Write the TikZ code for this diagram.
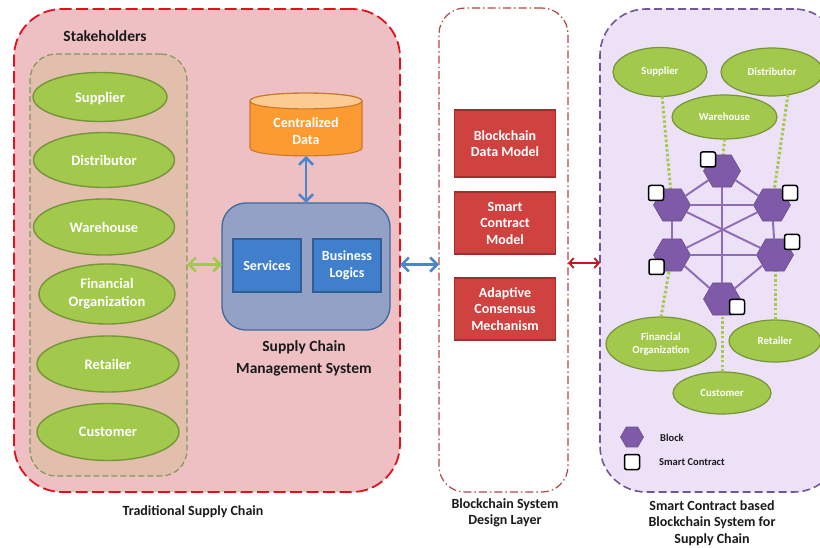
\documentclass[tikz,border=0pt]{standalone}
\usepackage{fontspec}
\setmainfont{Carlito}
\usetikzlibrary{shapes.geometric,arrows.meta,positioning}
\definecolor{panelred}{HTML}{EEC0C3}
\definecolor{panelredline}{HTML}{E3101E}
\definecolor{stakefill}{HTML}{E2BFAC}
\definecolor{stakeline}{HTML}{7F9A55}
\definecolor{leaf}{HTML}{A2C94C}
\definecolor{leafline}{HTML}{76943A}
\definecolor{blockline}{HTML}{B0474A}
\definecolor{lilac}{HTML}{EDE1F8}
\definecolor{lilacline}{HTML}{74559A}
\definecolor{hexfill}{HTML}{7F5AA8}
\definecolor{hexlink}{HTML}{8E6DB4}
\definecolor{orangefill}{HTML}{FD9B33}
\definecolor{orangetop}{HTML}{FBCB93}
\definecolor{orangeline}{HTML}{C8792B}
\definecolor{scmfill}{HTML}{94A1C6}
\definecolor{scmline}{HTML}{3C6A9E}
\definecolor{bluebox}{HTML}{3F7FCB}
\definecolor{blueboxline}{HTML}{2D5E96}
\definecolor{redbox}{HTML}{CF4240}
\definecolor{redboxline}{HTML}{A03030}
\definecolor{arrowblue}{HTML}{4A86CC}
\definecolor{arrowred}{HTML}{C8141E}
\definecolor{txtdark}{HTML}{1A1A1A}
\tikzset{
 x=1pt,y=-1pt,
 panel/.style={inner sep=0pt,outer sep=0pt},
 stakeell/.style={ellipse,inner sep=0pt,outer sep=0pt,fill=leaf,draw=leafline,line width=1.4pt,text=white,font=\fontsize{14.5}{18}\selectfont\bfseries,align=center},
 chainell/.style={stakeell,line width=1.2pt,font=\fontsize{10.8}{13}\selectfont\bfseries},
 bluerect/.style={rectangle,inner sep=0pt,outer sep=0pt,fill=bluebox,draw=blueboxline,line width=1.3pt,text=white,font=\fontsize{14}{17}\selectfont\bfseries,align=center,minimum width=68pt,minimum height=53pt},
 redrect/.style={rectangle,inner sep=0pt,outer sep=0pt,fill=redbox,draw=redboxline,line width=1.3pt,text=white,font=\fontsize{14}{16.5}\selectfont\bfseries,align=center,minimum width=101pt},
 hexa/.style={regular polygon,regular polygon sides=6,minimum size=37pt,inner sep=0pt,outer sep=0pt,fill=hexfill,draw=hexfill!85!black,line width=.6pt},
 contract/.style={rectangle,rounded corners=2pt,minimum size=15pt,inner sep=0pt,fill=white,draw=black,line width=1.5pt},
 caption/.style={text=txtdark,font=\fontsize{14}{16.5}\selectfont\bfseries,align=center},
 dualarrow/.style={line width=2.6pt,{Straight Barb[length=7pt,width=14pt,line width=2.6pt]}-{Straight Barb[length=7pt,width=14pt,line width=2.6pt]}},
 hexlinkline/.style={hexlink,line width=2pt},
 leafdots/.style={leaf,line width=3pt,dash pattern=on 2.6pt off 2.2pt},
}
\begin{document}
\begin{tikzpicture}
\useasboundingbox (0,0) rectangle (820,548);
% panels
\node[panel,draw=panelredline,fill=panelred,line width=1.8pt,dash pattern=on 12pt off 4.5pt,rounded corners=48pt,minimum width=386pt,minimum height=483pt] (tradpanel) at (207,250.5) {};
\node[panel,draw=stakeline,fill=stakefill,line width=1.2pt,dash pattern=on 6pt off 3pt,rounded corners=26pt,minimum width=157pt,minimum height=422pt] (stakepanel) at (108.5,265) {};
\node[panel,draw=blockline,fill=white,line width=1.2pt,dash pattern=on 8pt off 3pt on 1.5pt off 3pt,rounded corners=26pt,minimum width=129pt,minimum height=484pt] (blockpanel) at (503.5,250) {};
\node[panel,draw=lilacline,fill=lilac,line width=1.6pt,dash pattern=on 8pt off 4pt,rounded corners=46pt,minimum width=240pt,minimum height=483pt] (chainpanel) at (720,250.5) {};
% stakeholders
\node[caption,font=\fontsize{15.5}{18}\selectfont\bfseries] (stakecap) at (105,36) {Stakeholders};
\node[stakeell,text depth=0pt,minimum width=134pt,minimum height=49pt] (s1) at (100,97) {Supplier};
\node[stakeell,minimum width=141pt,minimum height=55pt] (s2) at (104,160) {Distributor};
\node[stakeell,minimum width=141pt,minimum height=56pt] (s3) at (104,227) {Warehouse};
\node[stakeell,minimum width=136pt,minimum height=60pt] (s4) at (107,294) {Financial\\Organization};
\node[stakeell,minimum width=142pt,minimum height=56pt] (s5) at (108,364) {Retailer};
\node[stakeell,minimum width=142pt,minimum height=57pt] (s6) at (108,432) {Customer};
% data + SCM
\node[panel,minimum width=112pt,minimum height=63pt] (data) at (306,124.5) {};
\filldraw[fill=orangefill,draw=orangeline,line width=1.1pt]
  (250,101) .. controls (250,90.5) and (362,90.5) .. (362,101) -- (362,148)
  .. controls (362,158.5) and (250,158.5) .. (250,148) -- cycle;
\filldraw[fill=orangetop,draw=orangeline,line width=1.1pt]
  (250,101) .. controls (250,90.5) and (362,90.5) .. (362,101)
  .. controls (362,111.5) and (250,111.5) .. (250,101) -- cycle;
\node[text=white,font=\fontsize{14}{17}\selectfont\bfseries,align=center] (datatext) at (306,131) {Centralized\\Data};
\node[panel,fill=scmfill,draw=scmline,line width=1.3pt,rounded corners=24pt,minimum width=168pt,minimum height=127pt] (scm) at (306,266.5) {};
\node[bluerect] (services) at (267,265.5) {Services};
\node[bluerect] (logics) at (347,265.5) {Business\\Logics};
\node[caption,font=\fontsize{15.5}{22}\selectfont\bfseries] (scmcap) at (304,358) {Supply Chain\\Management System};
% blockchain layer
\node[redrect,minimum height=67pt] (r1) at (505,143.5) {Blockchain\\Data Model};
\node[redrect,minimum height=62pt] (r2) at (505,223) {Smart\\Contract\\Model};
\node[redrect,minimum height=62pt] (r3) at (505,309) {Adaptive\\Consensus\\Mechanism};
% hexagons
\coordinate (ht) at (722,171);
\coordinate (hul) at (672,205);
\coordinate (hur) at (772,205);
\coordinate (hll) at (672,255);
\coordinate (hlr) at (775,255);
\coordinate (hb) at (722,299);
\node[chainell,minimum width=94pt,minimum height=49pt] (c1) at (660,72) {Supplier};
\node[chainell,minimum width=102pt,minimum height=48pt] (c2) at (772,72) {Distributor};
\node[chainell,minimum width=105pt,minimum height=44pt] (c3) at (724.5,117) {Warehouse};
\node[chainell,minimum width=110pt,minimum height=54pt] (c4) at (661,344) {Financial\\Organization};
\node[chainell,minimum width=92pt,minimum height=42pt] (c5) at (775,341) {Retailer};
\node[chainell,minimum width=98pt,minimum height=42pt] (c6) at (722,393) {Customer};
\draw[leafdots] (c1.-85) -- (hul);
\draw[leafdots] (c2.-55) -- (hur);
\draw[leafdots] (c3.south) -- (ht);
\draw[leafdots] (c4.north) -- (hll);
\draw[leafdots] (c5.north) -- (hlr);
\draw[leafdots] (c6.north) -- (hb);
\node[hexa] (n1) at (ht) {};
\node[hexa] (n2) at (hul) {};
\node[hexa] (n3) at (hur) {};
\node[hexa] (n4) at (hll) {};
\node[hexa] (n5) at (hlr) {};
\node[hexa] (n6) at (hb) {};
\draw[hexlinkline] (n1) -- (n2);
\draw[hexlinkline] (n1) -- (n3);
\draw[hexlinkline] (n2) -- (n3);
\draw[hexlinkline] (n2) -- (n4);
\draw[hexlinkline] (n3) -- (n5);
\draw[hexlinkline] (n4) -- (n5);
\draw[hexlinkline] (n4) -- (n6);
\draw[hexlinkline] (n5) -- (n6);
\draw[hexlinkline] (n1) -- (n6);
\draw[hexlinkline] (n2) -- (n5);
\draw[hexlinkline] (n3) -- (n4);
\node[contract] (b1) at (708,159.5) {};
\node[contract] (b2) at (656,193) {};
\node[contract] (b3) at (790,193) {};
\node[contract] (b4) at (792,242) {};
\node[contract] (b5) at (656.5,267) {};
\node[contract] (b6) at (737,307) {};
% legend
\node[hexa,minimum size=23pt] (lh) at (632,437) {};
\node[contract] (ls) at (632,462) {};
\node[anchor=west,inner sep=0pt,text=txtdark,font=\fontsize{10.5}{12}\selectfont\bfseries] (lht) at (660,437.5) {Block};
\node[anchor=west,inner sep=0pt,text=txtdark,font=\fontsize{10.5}{12}\selectfont\bfseries] (lst) at (659,462.5) {Smart Contract};
% connectors
\coordinate (midrow) at (0,264.5);
\coordinate (redrow) at (0,263);
\draw[dualarrow,arrowblue] (data.south) -- (scm.north);
\draw[dualarrow,leaf] (stakepanel.east |- midrow) -- (scm.west |- midrow);
\draw[dualarrow,arrowblue,line width=2.2pt] (tradpanel.east |- midrow) -- (blockpanel.west |- midrow);
\draw[arrowred,line width=1.8pt,{Straight Barb[length=4.5pt,width=10pt,line width=1.8pt]}-{Straight Barb[length=4.5pt,width=10pt,line width=1.8pt]}] (blockpanel.east |- redrow) -- (chainpanel.west |- redrow);
% captions
\node[caption] (cap1) at (193,512) {Traditional Supply Chain};
\node[caption] (cap2) at (505,513) {Blockchain System\\Design Layer};
\node[caption] (cap3) at (712,523) {Smart Contract based\\Blockchain System for\\Supply Chain};
\end{tikzpicture}
\end{document}
